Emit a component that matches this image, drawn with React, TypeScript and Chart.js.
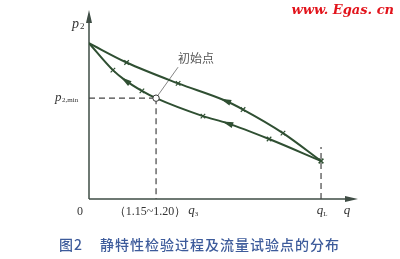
import React, { useEffect, useRef } from "react";
import { Chart, registerables } from "chart.js";

Chart.register(...registerables);

// Regulation curve: upper branch and lower branch between the start and q_L
const upperQ = [0, 1.62, 3.84, 5.86, 6.64, 8.36, 10.0];
const upperP = [10, 8.76, 7.42, 6.32, 5.74, 4.23, 2.44];
const upperMarks = ["", "x", "x", "arrow", "x", "x", "x"];

const lowerQ = [0, 1.03, 1.55, 2.28, 2.89, 4.91, 5.95, 7.76, 10.0];
const lowerP = [10, 8.27, 7.63, 6.94, 6.47, 5.32, 4.87, 3.85, 2.44];
const lowerMarks = ["", "x", "arrow", "x", "o", "x", "arrow", "x", "x"];

// Reference values on the axes
const q3 = 2.89;
const qL = 10.0;
const p2min = 6.47;

const xTickText = ["0", "（1.15~1.20）", "q"];
const xTickSub = ["", "3", "L"];
const xTickValues = [0, q3, qL];

const initialLabel = "初始点";
const captionHead = "图2";
const captionBody = "静特性检验过程及流量试验点的分布";
const siteMark = "www. Egas. cn";

const LINE = "#2f4f32";
const AXIS = "#3f4d45";

function toPts(q: number[], p: number[]) {
  return q.map((x, i) => ({ x, y: p[i] }));
}

export default function App() {
  const ref = useRef<HTMLCanvasElement | null>(null);

  useEffect(() => {
    const canvas = ref.current;
    if (!canvas) return;

    const decorations = {
      id: "decorations",
      beforeDatasetsDraw(chart: any) {
        const { ctx, scales } = chart;
        const xs = scales.x;
        const ys = scales.y;
        const ox = xs.getPixelForValue(0);
        const oy = ys.getPixelForValue(0);
        const xEnd = xs.getPixelForValue(xs.max);
        const yTop = ys.getPixelForValue(ys.max);
        ctx.save();
        // axes
        ctx.strokeStyle = AXIS;
        ctx.fillStyle = AXIS;
        ctx.lineWidth = 1.5;
        ctx.beginPath();
        ctx.moveTo(ox, oy);
        ctx.lineTo(ox, yTop + 8);
        ctx.moveTo(ox, oy);
        ctx.lineTo(xEnd - 8, oy);
        ctx.stroke();
        ctx.beginPath();
        ctx.moveTo(ox, yTop - 2);
        ctx.lineTo(ox - 3, yTop + 11);
        ctx.lineTo(ox + 3, yTop + 11);
        ctx.closePath();
        ctx.fill();
        ctx.beginPath();
        ctx.moveTo(xEnd + 1, oy);
        ctx.lineTo(xEnd - 12, oy - 3);
        ctx.lineTo(xEnd - 12, oy + 3);
        ctx.closePath();
        ctx.fill();

        // dashed guides
        const px3 = xs.getPixelForValue(q3);
        const pyMin = ys.getPixelForValue(p2min);
        const pxL = xs.getPixelForValue(qL);
        ctx.setLineDash([6, 4]);
        ctx.lineWidth = 1.2;
        ctx.strokeStyle = "#444";
        ctx.beginPath();
        ctx.moveTo(ox, pyMin);
        ctx.lineTo(px3, pyMin);
        ctx.moveTo(px3, pyMin);
        ctx.lineTo(px3, oy);
        ctx.moveTo(pxL, oy);
        ctx.lineTo(pxL, oy - 52);
        ctx.stroke();
        ctx.setLineDash([]);

        // leader line to the initial point
        ctx.strokeStyle = "#666";
        ctx.lineWidth = 0.8;
        ctx.beginPath();
        ctx.moveTo(px3 + 2, pyMin - 3);
        ctx.lineTo(px3 + 22, pyMin - 31);
        ctx.stroke();
        ctx.restore();
      },
      afterDatasetsDraw(chart: any) {
        const { ctx, scales } = chart;
        const xs = scales.x;
        const ys = scales.y;
        const ox = xs.getPixelForValue(0);
        const oy = ys.getPixelForValue(0);
        const yTop = ys.getPixelForValue(ys.max);
        ctx.save();

        // arrowheads and the initial point circle
        chart.data.datasets.forEach((ds: any, di: number) => {
          const meta = chart.getDatasetMeta(di);
          const marks = ds.marks as string[];
          meta.data.forEach((pt: any, i: number) => {
            if (marks[i] === "arrow") {
              const prev = meta.data[i - 1];
              const next = meta.data[i + 1];
              const a = Math.atan2(next.y - prev.y, next.x - prev.x) + Math.PI;
              ctx.save();
              ctx.translate(pt.x, pt.y);
              ctx.rotate(a);
              ctx.fillStyle = LINE;
              ctx.beginPath();
              ctx.moveTo(5, 0);
              ctx.lineTo(-6, -3);
              ctx.lineTo(-6, 3);
              ctx.closePath();
              ctx.fill();
              ctx.restore();
            } else if (marks[i] === "o") {
              ctx.beginPath();
              ctx.arc(pt.x, pt.y, 3.2, 0, Math.PI * 2);
              ctx.fillStyle = "#fff";
              ctx.fill();
              ctx.strokeStyle = "#333";
              ctx.lineWidth = 1;
              ctx.stroke();
            }
          });
        });

        const serifI = "'Liberation Serif', 'DejaVu Serif', serif";
        ctx.fillStyle = "#333";
        ctx.textBaseline = "middle";

        // y-axis label p2
        ctx.font = `italic 14px ${serifI}`;
        ctx.textAlign = "left";
        ctx.fillText("p", ox - 17, yTop + 12);
        ctx.font = `9px ${serifI}`;
        ctx.fillText("2", ox - 9, yTop + 15);

        // p2,min
        const pyMin = ys.getPixelForValue(p2min);
        ctx.font = `italic 13px ${serifI}`;
        ctx.fillText("p", ox - 34, pyMin - 1);
        ctx.font = `7px ${serifI}`;
        ctx.fillText("2,min", ox - 27, pyMin + 2);

        // x ticks
        const ty = oy + 13;
        xTickValues.forEach((v, i) => {
          const px = xs.getPixelForValue(v);
          if (i === 0) {
            ctx.font = `12px ${serifI}`;
            ctx.textAlign = "center";
            ctx.fillText(xTickText[0], px - 9, ty);
            return;
          }
          const isQ = i === 2;
          const lead = isQ ? "" : xTickText[i];
          ctx.font = `12px ${serifI}`;
          const leadW = ctx.measureText(lead).width;
          ctx.font = `italic 13px ${serifI}`;
          const qW = ctx.measureText("q").width;
          ctx.font = `7px ${serifI}`;
          const sW = ctx.measureText(xTickSub[i]).width;
          const total = leadW + 2 + qW + sW;
          let sx = px - total / 2 + (isQ ? 2 : 0);
          ctx.textAlign = "left";
          ctx.font = `12px ${serifI}`;
          ctx.fillText(lead, sx, ty);
          sx += leadW + (isQ ? 0 : 2);
          ctx.font = `italic 13px ${serifI}`;
          ctx.fillText("q", sx, ty - 1);
          sx += qW;
          ctx.font = `7px ${serifI}`;
          ctx.fillText(xTickSub[i], sx, ty + 2);
        });

        // x-axis label q
        ctx.font = `italic 13px ${serifI}`;
        ctx.textAlign = "center";
        ctx.fillText("q", xs.getPixelForValue(xs.max) - 10, ty - 1);

        // initial point annotation
        ctx.font = "12px 'Noto Sans CJK SC'";
        ctx.fillStyle = "#555";
        ctx.textAlign = "left";
        ctx.fillText(initialLabel, xs.getPixelForValue(q3) + 22, pyMin - 40);

        // caption
        ctx.font = "500 14px 'Noto Sans CJK SC'";
        ctx.fillStyle = "#3d5b9b";
        ctx.textAlign = "left";
        (ctx as any).letterSpacing = "1px";
        ctx.fillText(captionHead, 59, 245);
        ctx.fillText(captionBody, 100, 245);
        (ctx as any).letterSpacing = "0px";

        // site mark
        ctx.font = "bold italic 13px 'DejaVu Serif'";
        ctx.fillStyle = "#e2141c";
        ctx.textAlign = "right";
        ctx.fillText(siteMark, 394, 11);

        ctx.restore();
      },
    };

    const lineDs = (q: number[], p: number[], marks: string[]) => ({
      data: toPts(q, p),
      marks,
      showLine: true,
      borderColor: LINE,
      borderWidth: 2,
      cubicInterpolationMode: "monotone",
      fill: false,
      pointStyle: "crossRot",
      pointRadius: (c: any) => (marks[c.dataIndex] === "x" ? 3.2 : 0),
      pointBorderColor: LINE,
      pointBorderWidth: 1.2,
      pointHoverRadius: 0,
    });

    const chart = new Chart(canvas, {
      type: "scatter",
      data: {
        datasets: [
          lineDs(upperQ, upperP, upperMarks) as any,
          lineDs(lowerQ, lowerP, lowerMarks) as any,
        ],
      },
      options: {
        animation: false,
        responsive: false,
        devicePixelRatio: 1,
        layout: { padding: { left: 89, right: 43, top: 12, bottom: 60 } },
        scales: {
          x: { type: "linear", display: false, min: 0, max: 11.55 },
          y: { type: "linear", display: false, min: 0, max: 12 },
        },
        plugins: {
          legend: { display: false },
          tooltip: { enabled: false },
        },
        events: [],
      },
      plugins: [decorations],
    });
    return () => chart.destroy();
  }, []);

  return (
    <div style={{ position: "absolute", left: 0, top: 0, width: 400, height: 259, background: "#fff" }}>
      <canvas ref={ref} width={400} height={259} style={{ width: 400, height: 259 }} />
    </div>
  );
}
